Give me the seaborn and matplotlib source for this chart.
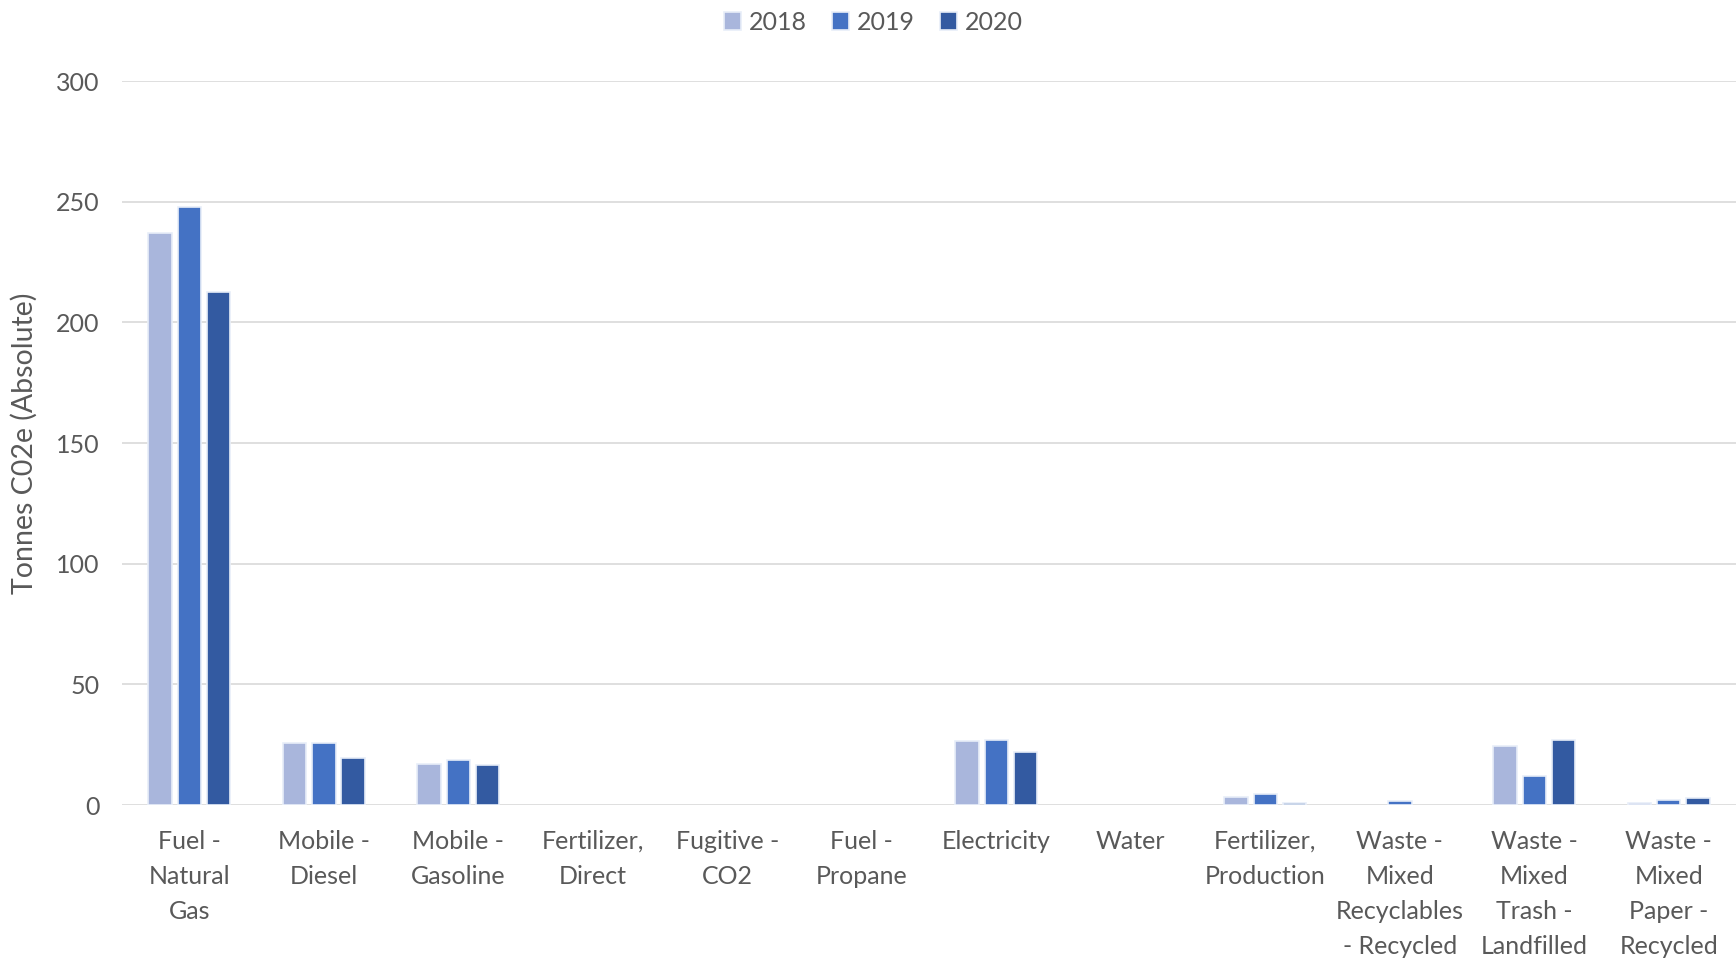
import matplotlib
matplotlib.use("Agg")
import matplotlib.pyplot as plt
import seaborn as sns
import pandas as pd

# Emission sources (x-axis categories)
categories = [
    "Fuel -\nNatural\nGas",
    "Mobile -\nDiesel",
    "Mobile -\nGasoline",
    "Fertilizer,\nDirect",
    "Fugitive -\nCO2",
    "Fuel -\nPropane",
    "Electricity",
    "Water",
    "Fertilizer,\nProduction",
    "Waste -\nMixed\nRecyclables\n- Recycled",
    "Waste -\nMixed\nTrash -\nLandfilled",
    "Waste -\nMixed\nPaper -\nRecycled",
]
years = ["2018", "2019", "2020"]

# Tonnes CO2e per source and year
values_2018 = [237.2, 25.7, 17.0, 0, 0, 0, 26.6, 0, 3.5, 0, 24.3, 0.8]
values_2019 = [247.7, 25.7, 18.8, 0, 0, 0, 27.0, 0, 4.7, 1.5, 12.2, 2.0]
values_2020 = [212.4, 19.3, 16.5, 0, 0, 0, 22.0, 0, 1.0, 0, 27.0, 2.9]

colors = ["#A9B6DC", "#4472C4", "#335AA1"]
text_color = "#595959"

rows = []
for year, vals in zip(years, [values_2018, values_2019, values_2020]):
    for cat, v in zip(categories, vals):
        rows.append({"source": cat, "year": year, "value": v})
df = pd.DataFrame(rows)

sns.set_style("white")
plt.rcParams["font.family"] = ["Lato", "DejaVu Sans"]

fig = plt.figure(figsize=(17.36, 9.61), dpi=100)
ax = fig.add_axes([0.0703, 0.1623, 0.9297, 0.7534])

sns.barplot(
    data=df, x="source", y="value", hue="year",
    order=categories, hue_order=years, palette=colors,
    width=0.655, gap=0.2, saturation=1, errorbar=None,
    edgecolor="#E8EEF8", linewidth=1.2, ax=ax, legend=True,
)

# hide outlines of empty bars (keep the zero-size legend proxies)
for p in ax.patches:
    if p.get_width() > 0 and p.get_height() == 0:
        p.set_visible(False)

ax.set_ylim(0, 300)
ax.set_xlim(-0.5, len(categories) - 0.5)
ax.set_yticks(range(0, 301, 50))
ax.yaxis.grid(True, color="#D9D9D9", linewidth=1.2)
ax.set_axisbelow(True)
for s in ax.spines.values():
    s.set_visible(False)
ax.tick_params(axis="both", length=0, colors=text_color, labelsize=18)
ax.tick_params(axis="y", pad=16)
ax.tick_params(axis="x", pad=18)
for lbl in ax.get_xticklabels():
    lbl.set_linespacing(1.63)
    lbl.set_verticalalignment("top")

ax.set_xlabel("")
ax.set_ylabel("Tonnes C02e (Absolute)", color=text_color, fontsize=20.5)
ax.yaxis.set_label_coords(-0.052, 0.5)

handles, labels = ax.get_legend_handles_labels()
ax.get_legend().remove()
fig.legend(
    handles, labels, loc="upper center", bbox_to_anchor=(0.503, 1.012),
    ncol=3, frameon=False, fontsize=18, labelcolor=text_color,
    handlelength=0.7, handleheight=0.7, handletextpad=0.3, columnspacing=1.0,
)

fig.savefig("out.png", dpi=100)
